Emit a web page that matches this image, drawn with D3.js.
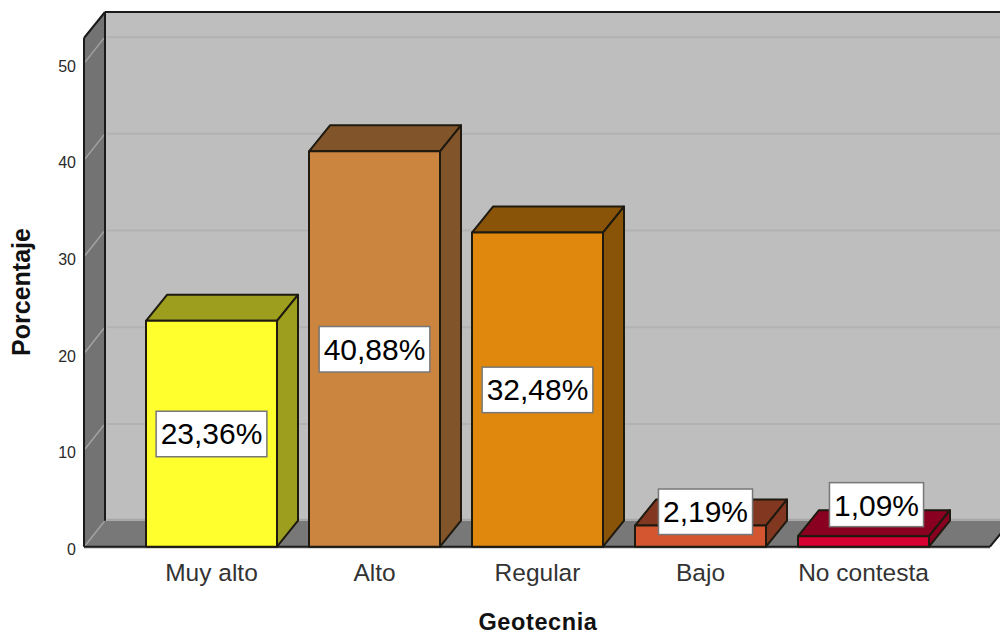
<!DOCTYPE html>
<html><head><meta charset="utf-8">
<script src="https://cdn.jsdelivr.net/npm/d3@7/dist/d3.min.js"></script>
<style>html,body{margin:0;padding:0;background:#fff}svg{display:block}text{font-family:"Liberation Sans",Arial,sans-serif}</style>
</head><body><svg id="c" width="1000" height="635"></svg>
<script>
const categories = ["Muy alto","Alto","Regular","Bajo","No contesta"];
const values = [23.36,40.88,32.48,2.19,1.09];
const valueLabels = ["23,36%","40,88%","32,48%","2,19%","1,09%"];
const frontColors = ["#ffff2d","#cc853f","#e0880e","#d35630","#d70032"];
const darkColors = ["#9e9e1e","#82542a","#8a5408","#813720","#8a0020"];
const yTicks = [0,10,20,30,40,50];

const svg = d3.select("#c");
const dx = 21, dy = -26;
const y = d3.scaleLinear().domain([0,52.6]).range([546.7,38]);
const x = d3.scaleBand().domain(categories).range([130,945]).paddingInner(32/163).paddingOuter(16/163);
const L = 84, R = 990, y0 = y(0), yT = y(52.6);
const poly = (pts,fill,stroke,sw) => svg.append("polygon").attr("points",pts.map(p=>p.join(",")).join(" "))
  .attr("fill",fill).attr("stroke",stroke||"none").attr("stroke-width",sw||0).attr("stroke-linejoin","round");
const line = (x1,y1,x2,y2,c,w) => svg.append("line").attr("x1",x1).attr("y1",y1).attr("x2",x2).attr("y2",y2).attr("stroke",c).attr("stroke-width",w);

// back wall
poly([[L+dx,yT+dy],[R+dx,yT+dy],[R+dx,y0+dy],[L+dx,y0+dy]],"#bebebe");
// left wall
poly([[L,yT],[L+dx,yT+dy],[L+dx,y0+dy],[L,y0]],"#737373");
// floor
poly([[L,y0],[L+dx,y0+dy],[R+dx,y0+dy],[R,y0]],"#787878");
line(L+dx+2,y0+dy-1,R+dx,y0+dy-1,"#a6a6a6",2);
// gridlines
yTicks.filter(t=>t>0).forEach(t=>{
  line(L+dx+2,y(t)+dy,R+dx,y(t)+dy,"#b2b2b2",2);
  line(L+1,y(t)-1,L+dx-1,y(t)+dy+1,"#a2a2a2",1.5);
});
line(L+1,y0-1,L+dx-1,y0+dy+1,"#a2a2a2",1.5);
// frame edges
line(L,yT,L,y0,"#1a1a1a",2);
line(L+dx,yT+dy,L+dx,y0+dy,"#1a1a1a",2);
line(L,yT,L+dx,yT+dy,"#1a1a1a",2);
line(L+dx,yT+dy,1000,yT+dy,"#1a1a1a",2);
line(L,y0+1,R,y0+1,"#c8c8c8",2);
line(L,y0,R,y0,"#1a1a1a",2);
line(R,y0,R+dx,y0+dy,"#1a1a1a",2);

// bars
const edge = "#1e1a10";
categories.forEach((c,i)=>{
  const a = x(c), b = a + x.bandwidth(), t = y(values[i]);
  poly([[a,t],[a+dx,t+dy],[b+dx,t+dy],[b,t]],darkColors[i],edge,2);
  poly([[b,t],[b+dx,t+dy],[b+dx,y0+dy],[b,y0]],darkColors[i],edge,2);
  poly([[a,t],[b,t],[b,y0],[a,y0]],frontColors[i],edge,2);
});

// value labels: tall bars centre in the bar; the two short bars lift and shift the label clear
const liftSmall = [0,0,0,14,31];
const shiftSmall = [0,0,0,5,13];
categories.forEach((c,i)=>{
  const small = liftSmall[i] > 0;
  const cx = x(c) + x.bandwidth()/2 + shiftSmall[i];
  const cy = small ? y(values[i]) - liftSmall[i] : (y(values[i]) + y0)/2;
  const g = svg.append("g");
  const r = g.append("rect");
  const tx = g.append("text").attr("x",cx).attr("y",cy+10.5).attr("text-anchor","middle")
    .attr("font-size",30).attr("fill","#000").text(valueLabels[i]);
  const w = tx.node().getComputedTextLength() + 9;
  r.attr("x",cx-w/2).attr("y",cy-22.5).attr("width",w).attr("height",i===4 ? 44 : 45.5)
    .attr("fill","#fff").attr("stroke","#777").attr("stroke-width",1.5);
});

// y tick labels
yTicks.forEach(t=>{
  svg.append("text").attr("x",76).attr("y",y(t)+8.5).attr("text-anchor","end")
    .attr("font-size",16).attr("fill","#2a2a2a").text(t);
});
// category labels
categories.forEach(c=>{
  svg.append("text").attr("x",x(c)+x.bandwidth()/2).attr("y",581).attr("text-anchor","middle")
    .attr("font-size",24.5).attr("fill","#333").text(c);
});
// axis titles
svg.append("text").attr("x",538).attr("y",630).attr("text-anchor","middle")
  .attr("font-size",23.5).attr("letter-spacing",0.6).attr("font-weight","bold").attr("fill","#111").text("Geotecnia");
svg.append("text").attr("transform","translate(30,292) rotate(-90)").attr("text-anchor","middle")
  .attr("font-size",25).attr("font-weight","bold").attr("fill","#111").text("Porcentaje");
</script></body></html>
